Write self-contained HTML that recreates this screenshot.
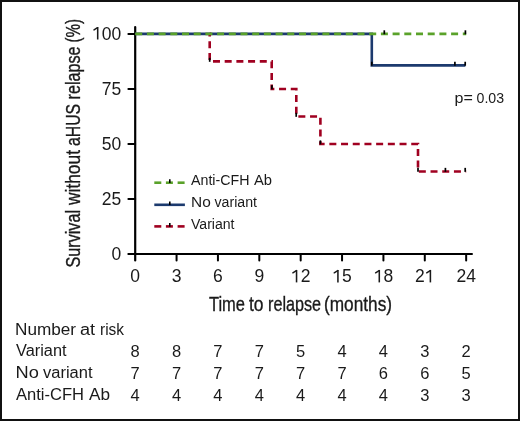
<!DOCTYPE html>
<html><head><meta charset="utf-8"><style>
html,body{margin:0;padding:0;background:#fff;}
#c{position:relative;width:520px;height:421px;box-sizing:border-box;border:2px solid #111;background:#fff;overflow:hidden;}
svg{position:absolute;left:-2px;top:-2px;will-change:transform;}
text{font-family:"Liberation Sans",sans-serif;fill:#1a1a1a;}
text.ttl{stroke:#1a1a1a;stroke-width:0.35px;}
</style></head><body>
<div id="c"><svg width="520" height="421" viewBox="0 0 520 421">
<line x1="135.2" y1="27.1" x2="135.2" y2="260.4" stroke="#000" stroke-width="2.2" stroke-linecap="round"/>
<line x1="128.4" y1="254.0" x2="471.9" y2="254.0" stroke="#000" stroke-width="2.2" stroke-linecap="round"/>
<line x1="128.4" y1="33.90" x2="135.2" y2="33.90" stroke="#000" stroke-width="2.0" stroke-linecap="round"/>
<line x1="128.4" y1="88.93" x2="135.2" y2="88.93" stroke="#000" stroke-width="2.0" stroke-linecap="round"/>
<line x1="128.4" y1="143.95" x2="135.2" y2="143.95" stroke="#000" stroke-width="2.0" stroke-linecap="round"/>
<line x1="128.4" y1="198.97" x2="135.2" y2="198.97" stroke="#000" stroke-width="2.0" stroke-linecap="round"/>
<line x1="176.57" y1="254.0" x2="176.57" y2="260.4" stroke="#000" stroke-width="2.0" stroke-linecap="round"/>
<line x1="217.94" y1="254.0" x2="217.94" y2="260.4" stroke="#000" stroke-width="2.0" stroke-linecap="round"/>
<line x1="259.31" y1="254.0" x2="259.31" y2="260.4" stroke="#000" stroke-width="2.0" stroke-linecap="round"/>
<line x1="300.68" y1="254.0" x2="300.68" y2="260.4" stroke="#000" stroke-width="2.0" stroke-linecap="round"/>
<line x1="342.05" y1="254.0" x2="342.05" y2="260.4" stroke="#000" stroke-width="2.0" stroke-linecap="round"/>
<line x1="383.42" y1="254.0" x2="383.42" y2="260.4" stroke="#000" stroke-width="2.0" stroke-linecap="round"/>
<line x1="424.79" y1="254.0" x2="424.79" y2="260.4" stroke="#000" stroke-width="2.0" stroke-linecap="round"/>
<line x1="466.16" y1="254.0" x2="466.16" y2="260.4" stroke="#000" stroke-width="2.0" stroke-linecap="round"/>
<polyline points="135.20,33.90 371.80,33.90 371.80,65.34 465.40,65.34" fill="none" stroke="#1c3a6e" stroke-width="2.6"/>
<polyline points="209.69,33.90 209.70,33.90 209.70,61.41 271.70,61.41 271.70,88.93 296.30,88.93 296.30,116.44 320.40,116.44 320.40,143.95 418.00,143.95 418.00,171.46 466.16,171.46" fill="none" stroke="#a00020" stroke-width="2.6" stroke-dasharray="7 4.7" stroke-dashoffset="4.30"/>
<polyline points="135.20,33.90 466.16,33.90" fill="none" stroke="#5aa22a" stroke-width="2.6" stroke-dasharray="7 4.7"/>
<line x1="384.30" y1="30.30" x2="384.30" y2="34.30" stroke="#000" stroke-width="1.7"/>
<line x1="465.40" y1="30.30" x2="465.40" y2="34.30" stroke="#000" stroke-width="1.7"/>
<line x1="371.80" y1="61.74" x2="371.80" y2="65.74" stroke="#000" stroke-width="1.7"/>
<line x1="454.90" y1="61.74" x2="454.90" y2="65.74" stroke="#000" stroke-width="1.7"/>
<line x1="465.20" y1="61.74" x2="465.20" y2="65.74" stroke="#000" stroke-width="1.7"/>
<line x1="209.70" y1="57.81" x2="209.70" y2="61.81" stroke="#000" stroke-width="1.7"/>
<line x1="271.90" y1="85.33" x2="271.90" y2="89.33" stroke="#000" stroke-width="1.7"/>
<line x1="296.20" y1="112.84" x2="296.20" y2="116.84" stroke="#000" stroke-width="1.7"/>
<line x1="320.40" y1="140.35" x2="320.40" y2="144.35" stroke="#000" stroke-width="1.7"/>
<line x1="418.00" y1="167.86" x2="418.00" y2="171.86" stroke="#000" stroke-width="1.7"/>
<line x1="445.40" y1="167.86" x2="445.40" y2="171.86" stroke="#000" stroke-width="1.7"/>
<line x1="465.20" y1="167.86" x2="465.20" y2="171.86" stroke="#000" stroke-width="1.7"/>
<line x1="154.3" y1="182.7" x2="161.3" y2="182.7" stroke="#5aa22a" stroke-width="2.6"/>
<line x1="165.9" y1="182.7" x2="172.9" y2="182.7" stroke="#5aa22a" stroke-width="2.6"/>
<line x1="177.6" y1="182.7" x2="184.6" y2="182.7" stroke="#5aa22a" stroke-width="2.6"/>
<line x1="169.8" y1="179.30" x2="169.8" y2="183.00" stroke="#000" stroke-width="1.6"/>
<line x1="154.3" y1="204.8" x2="184.9" y2="204.8" stroke="#1c3a6e" stroke-width="2.6"/>
<line x1="169.8" y1="201.40" x2="169.8" y2="205.10" stroke="#000" stroke-width="1.6"/>
<line x1="154.3" y1="226.4" x2="161.3" y2="226.4" stroke="#a00020" stroke-width="2.6"/>
<line x1="165.9" y1="226.4" x2="172.9" y2="226.4" stroke="#a00020" stroke-width="2.6"/>
<line x1="177.6" y1="226.4" x2="184.6" y2="226.4" stroke="#a00020" stroke-width="2.6"/>
<line x1="169.8" y1="223.00" x2="169.8" y2="226.70" stroke="#000" stroke-width="1.6"/>
<text x="121.30" y="39.50" font-size="17.5" text-anchor="end"> 00</text>
<path d="M97.70,27.10V39.50" stroke="#1a1a1a" stroke-width="1.55" fill="none"/>
<path d="M97.50,27.70L94.00,29.90" stroke="#1a1a1a" stroke-width="1.45" stroke-linecap="round" fill="none"/>
<text x="121.30" y="94.53" font-size="17.5" text-anchor="end">75</text>
<text x="121.30" y="149.55" font-size="17.5" text-anchor="end">50</text>
<text x="121.30" y="204.57" font-size="17.5" text-anchor="end">25</text>
<text x="121.30" y="259.60" font-size="17.5" text-anchor="end">0</text>
<text x="135.20" y="282.40" font-size="17.5" text-anchor="middle">0</text>
<text x="176.57" y="282.40" font-size="17.5" text-anchor="middle">3</text>
<text x="217.94" y="282.40" font-size="17.5" text-anchor="middle">6</text>
<text x="259.31" y="282.40" font-size="17.5" text-anchor="middle">9</text>
<text x="300.68" y="282.40" font-size="17.5" text-anchor="middle"> 2</text>
<path d="M296.55,270.00V282.40" stroke="#1a1a1a" stroke-width="1.55" fill="none"/>
<path d="M296.35,270.60L292.85,272.80" stroke="#1a1a1a" stroke-width="1.45" stroke-linecap="round" fill="none"/>
<text x="342.05" y="282.40" font-size="17.5" text-anchor="middle"> 5</text>
<path d="M337.92,270.00V282.40" stroke="#1a1a1a" stroke-width="1.55" fill="none"/>
<path d="M337.72,270.60L334.22,272.80" stroke="#1a1a1a" stroke-width="1.45" stroke-linecap="round" fill="none"/>
<text x="383.42" y="282.40" font-size="17.5" text-anchor="middle"> 8</text>
<path d="M379.29,270.00V282.40" stroke="#1a1a1a" stroke-width="1.55" fill="none"/>
<path d="M379.09,270.60L375.59,272.80" stroke="#1a1a1a" stroke-width="1.45" stroke-linecap="round" fill="none"/>
<text x="424.79" y="282.40" font-size="17.5" text-anchor="middle">2 </text>
<path d="M430.39,270.00V282.40" stroke="#1a1a1a" stroke-width="1.55" fill="none"/>
<path d="M430.19,270.60L426.69,272.80" stroke="#1a1a1a" stroke-width="1.45" stroke-linecap="round" fill="none"/>
<text x="466.16" y="282.40" font-size="17.5" text-anchor="middle">24</text>
<text id="xt1" class="ttl" x="209.00" y="311.0" font-size="21" textLength="36.02" lengthAdjust="spacingAndGlyphs">Time</text>
<text id="xt2" class="ttl" x="249.00" y="311.0" font-size="21" textLength="14.57" lengthAdjust="spacingAndGlyphs">to</text>
<text id="xt3" class="ttl" x="268.00" y="311.0" font-size="21" textLength="53.11" lengthAdjust="spacingAndGlyphs">relapse</text>
<text id="xt4" class="ttl" x="324.00" y="311.0" font-size="21" textLength="68.04" lengthAdjust="spacingAndGlyphs">(months)</text>
<text id="yt1" class="ttl" transform="translate(80.2,0) rotate(-90)" x="-267.50" y="0" font-size="21" textLength="57.56" lengthAdjust="spacingAndGlyphs">Survival</text>
<text id="yt2" class="ttl" transform="translate(80.2,0) rotate(-90)" x="-205.00" y="0" font-size="21" textLength="55.01" lengthAdjust="spacingAndGlyphs">without</text>
<text id="yt3" class="ttl" transform="translate(80.2,0) rotate(-90)" x="-146.00" y="0" font-size="21" textLength="42.07" lengthAdjust="spacingAndGlyphs">aHUS</text>
<text id="yt4" class="ttl" transform="translate(80.2,0) rotate(-90)" x="-99.50" y="0" font-size="21" textLength="53.05" lengthAdjust="spacingAndGlyphs">relapse</text>
<text id="yt5" class="ttl" transform="translate(80.2,0) rotate(-90)" x="-42.50" y="0" font-size="21" textLength="23.63" lengthAdjust="spacingAndGlyphs">(%)</text>
<text id="pv1" x="454.50" y="102.8" font-size="14" textLength="18.29" lengthAdjust="spacingAndGlyphs">p=</text>
<text id="pv2" x="476.50" y="102.8" font-size="14" textLength="27.58" lengthAdjust="spacingAndGlyphs">0.03</text>
<text id="lg1a" x="191.00" y="185.4" font-size="14" textLength="58.54" lengthAdjust="spacingAndGlyphs">Anti-CFH</text>
<text id="lg1b" x="254.00" y="185.4" font-size="14" textLength="18.04" lengthAdjust="spacingAndGlyphs">Ab</text>
<text id="lg2a" x="191.00" y="207.1" font-size="14" textLength="19.72" lengthAdjust="spacingAndGlyphs">No</text>
<text id="lg2b" x="214.50" y="207.1" font-size="14" textLength="42.53" lengthAdjust="spacingAndGlyphs">variant</text>
<text id="lg3" x="191.00" y="228.7" font-size="14" textLength="43.53" lengthAdjust="spacingAndGlyphs">Variant</text>
<text id="tb0a" x="15.00" y="334.6" font-size="15.6" textLength="61.04" lengthAdjust="spacingAndGlyphs">Number</text>
<text id="tb0b" x="80.00" y="334.6" font-size="15.6" textLength="15.15" lengthAdjust="spacingAndGlyphs">at</text>
<text id="tb0c" x="100.00" y="334.6" font-size="15.6" textLength="24.11" lengthAdjust="spacingAndGlyphs">risk</text>
<text id="tb1" x="16.00" y="356.4" font-size="15.6" textLength="50.54" lengthAdjust="spacingAndGlyphs">Variant</text>
<text id="tb2a" x="15.50" y="378.1" font-size="15.6" textLength="23.30" lengthAdjust="spacingAndGlyphs">No</text>
<text id="tb2b" x="43.00" y="378.1" font-size="15.6" textLength="49.51" lengthAdjust="spacingAndGlyphs">variant</text>
<text id="tb3a" x="16.00" y="399.7" font-size="15.6" textLength="68.08" lengthAdjust="spacingAndGlyphs">Anti-CFH</text>
<text id="tb3b" x="89.00" y="399.7" font-size="15.6" textLength="21.05" lengthAdjust="spacingAndGlyphs">Ab</text>
<text x="135.20" y="357.40" font-size="16.5" text-anchor="middle">8</text>
<text x="176.57" y="357.40" font-size="16.5" text-anchor="middle">8</text>
<text x="217.94" y="357.40" font-size="16.5" text-anchor="middle">7</text>
<text x="259.31" y="357.40" font-size="16.5" text-anchor="middle">7</text>
<text x="300.68" y="357.40" font-size="16.5" text-anchor="middle">5</text>
<text x="342.05" y="357.40" font-size="16.5" text-anchor="middle">4</text>
<text x="383.42" y="357.40" font-size="16.5" text-anchor="middle">4</text>
<text x="424.79" y="357.40" font-size="16.5" text-anchor="middle">3</text>
<text x="466.16" y="357.40" font-size="16.5" text-anchor="middle">2</text>
<text x="135.20" y="379.10" font-size="16.5" text-anchor="middle">7</text>
<text x="176.57" y="379.10" font-size="16.5" text-anchor="middle">7</text>
<text x="217.94" y="379.10" font-size="16.5" text-anchor="middle">7</text>
<text x="259.31" y="379.10" font-size="16.5" text-anchor="middle">7</text>
<text x="300.68" y="379.10" font-size="16.5" text-anchor="middle">7</text>
<text x="342.05" y="379.10" font-size="16.5" text-anchor="middle">7</text>
<text x="383.42" y="379.10" font-size="16.5" text-anchor="middle">6</text>
<text x="424.79" y="379.10" font-size="16.5" text-anchor="middle">6</text>
<text x="466.16" y="379.10" font-size="16.5" text-anchor="middle">5</text>
<text x="135.20" y="400.80" font-size="16.5" text-anchor="middle">4</text>
<text x="176.57" y="400.80" font-size="16.5" text-anchor="middle">4</text>
<text x="217.94" y="400.80" font-size="16.5" text-anchor="middle">4</text>
<text x="259.31" y="400.80" font-size="16.5" text-anchor="middle">4</text>
<text x="300.68" y="400.80" font-size="16.5" text-anchor="middle">4</text>
<text x="342.05" y="400.80" font-size="16.5" text-anchor="middle">4</text>
<text x="383.42" y="400.80" font-size="16.5" text-anchor="middle">4</text>
<text x="424.79" y="400.80" font-size="16.5" text-anchor="middle">3</text>
<text x="466.16" y="400.80" font-size="16.5" text-anchor="middle">3</text>
</svg></div>
</body></html>
